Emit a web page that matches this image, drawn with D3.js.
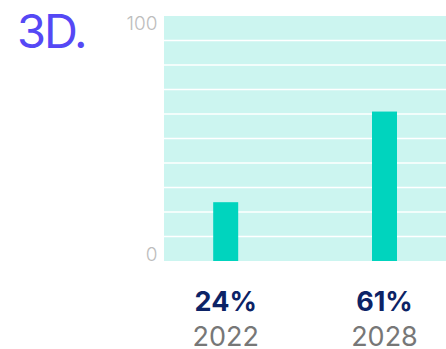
<!DOCTYPE html>
<html><head><meta charset="utf-8">
<script src="https://cdn.jsdelivr.net/npm/d3@7"></script>
<style>html,body{margin:0;padding:0;background:#fff;}svg{display:block;}</style>
</head><body>
<script>
const title = "3D.";
const categories = ["2022", "2028"];
const values = [24, 61];
const valueLabels = ["24%", "61%"];
const yTicks = [0, 100];
const gridValues = [10, 20, 30, 40, 50, 60, 70, 80, 90];

const W = 446, H = 349;
const svg = d3.select("body").append("svg").attr("width", W).attr("height", H);

const plot = {left: 164, right: 446, top: 16, bottom: 261};
const y = d3.scaleLinear().domain([0, 100]).range([plot.bottom, plot.top]);
const x = d3.scalePoint().domain(categories).range([225.7, 384.5]);
const barW = 25;

svg.append("rect").attr("x", plot.left).attr("y", plot.top)
  .attr("width", plot.right - plot.left).attr("height", plot.bottom - plot.top)
  .attr("fill", "#ccf5f0");

svg.selectAll("line.grid").data(gridValues).enter().append("line")
  .attr("x1", plot.left).attr("x2", plot.right)
  .attr("y1", d => y(d)).attr("y2", d => y(d))
  .attr("stroke", "#ffffff").attr("stroke-width", 1.5);

svg.selectAll("rect.bar").data(values).enter().append("rect")
  .attr("x", (d, i) => x(categories[i]) - barW / 2)
  .attr("y", d => y(d)).attr("width", barW)
  .attr("height", d => y(0) - y(d))
  .attr("fill", "#00d4be");

const font = "Inter, 'Liberation Sans', Arial, sans-serif";

svg.selectAll("text.ytick").data(yTicks).enter().append("text")
  .attr("x", 157.5)
  .attr("y", d => d === 100 ? y(d) + 13.5 : y(d))
  .attr("text-anchor", "end")
  .attr("font-family", font).attr("font-size", 19).attr("font-weight", 300)
  .attr("fill", "#bdbdbd")
  .text(d => d);

svg.append("text").attr("x", 17).attr("y", 48)
  .attr("font-family", font).attr("font-size", 47).attr("font-weight", 400)
  .attr("letter-spacing", -2)
  .attr("fill", "#5548f5").text(title);

svg.selectAll("text.val").data(valueLabels).enter().append("text")
  .attr("x", (d, i) => x(categories[i]))
  .attr("y", 310.5)
  .attr("text-anchor", "middle")
  .attr("font-family", font).attr("font-size", 27).attr("font-weight", 700)
  .attr("fill", "#0c2366").text(d => d);

svg.selectAll("text.cat").data(categories).enter().append("text")
  .attr("x", d => x(d))
  .attr("y", 345.5)
  .attr("text-anchor", "middle")
  .attr("font-family", font).attr("font-size", 27).attr("font-weight", 400)
  .attr("fill", "#777777").text(d => d);
</script>
</body></html>
